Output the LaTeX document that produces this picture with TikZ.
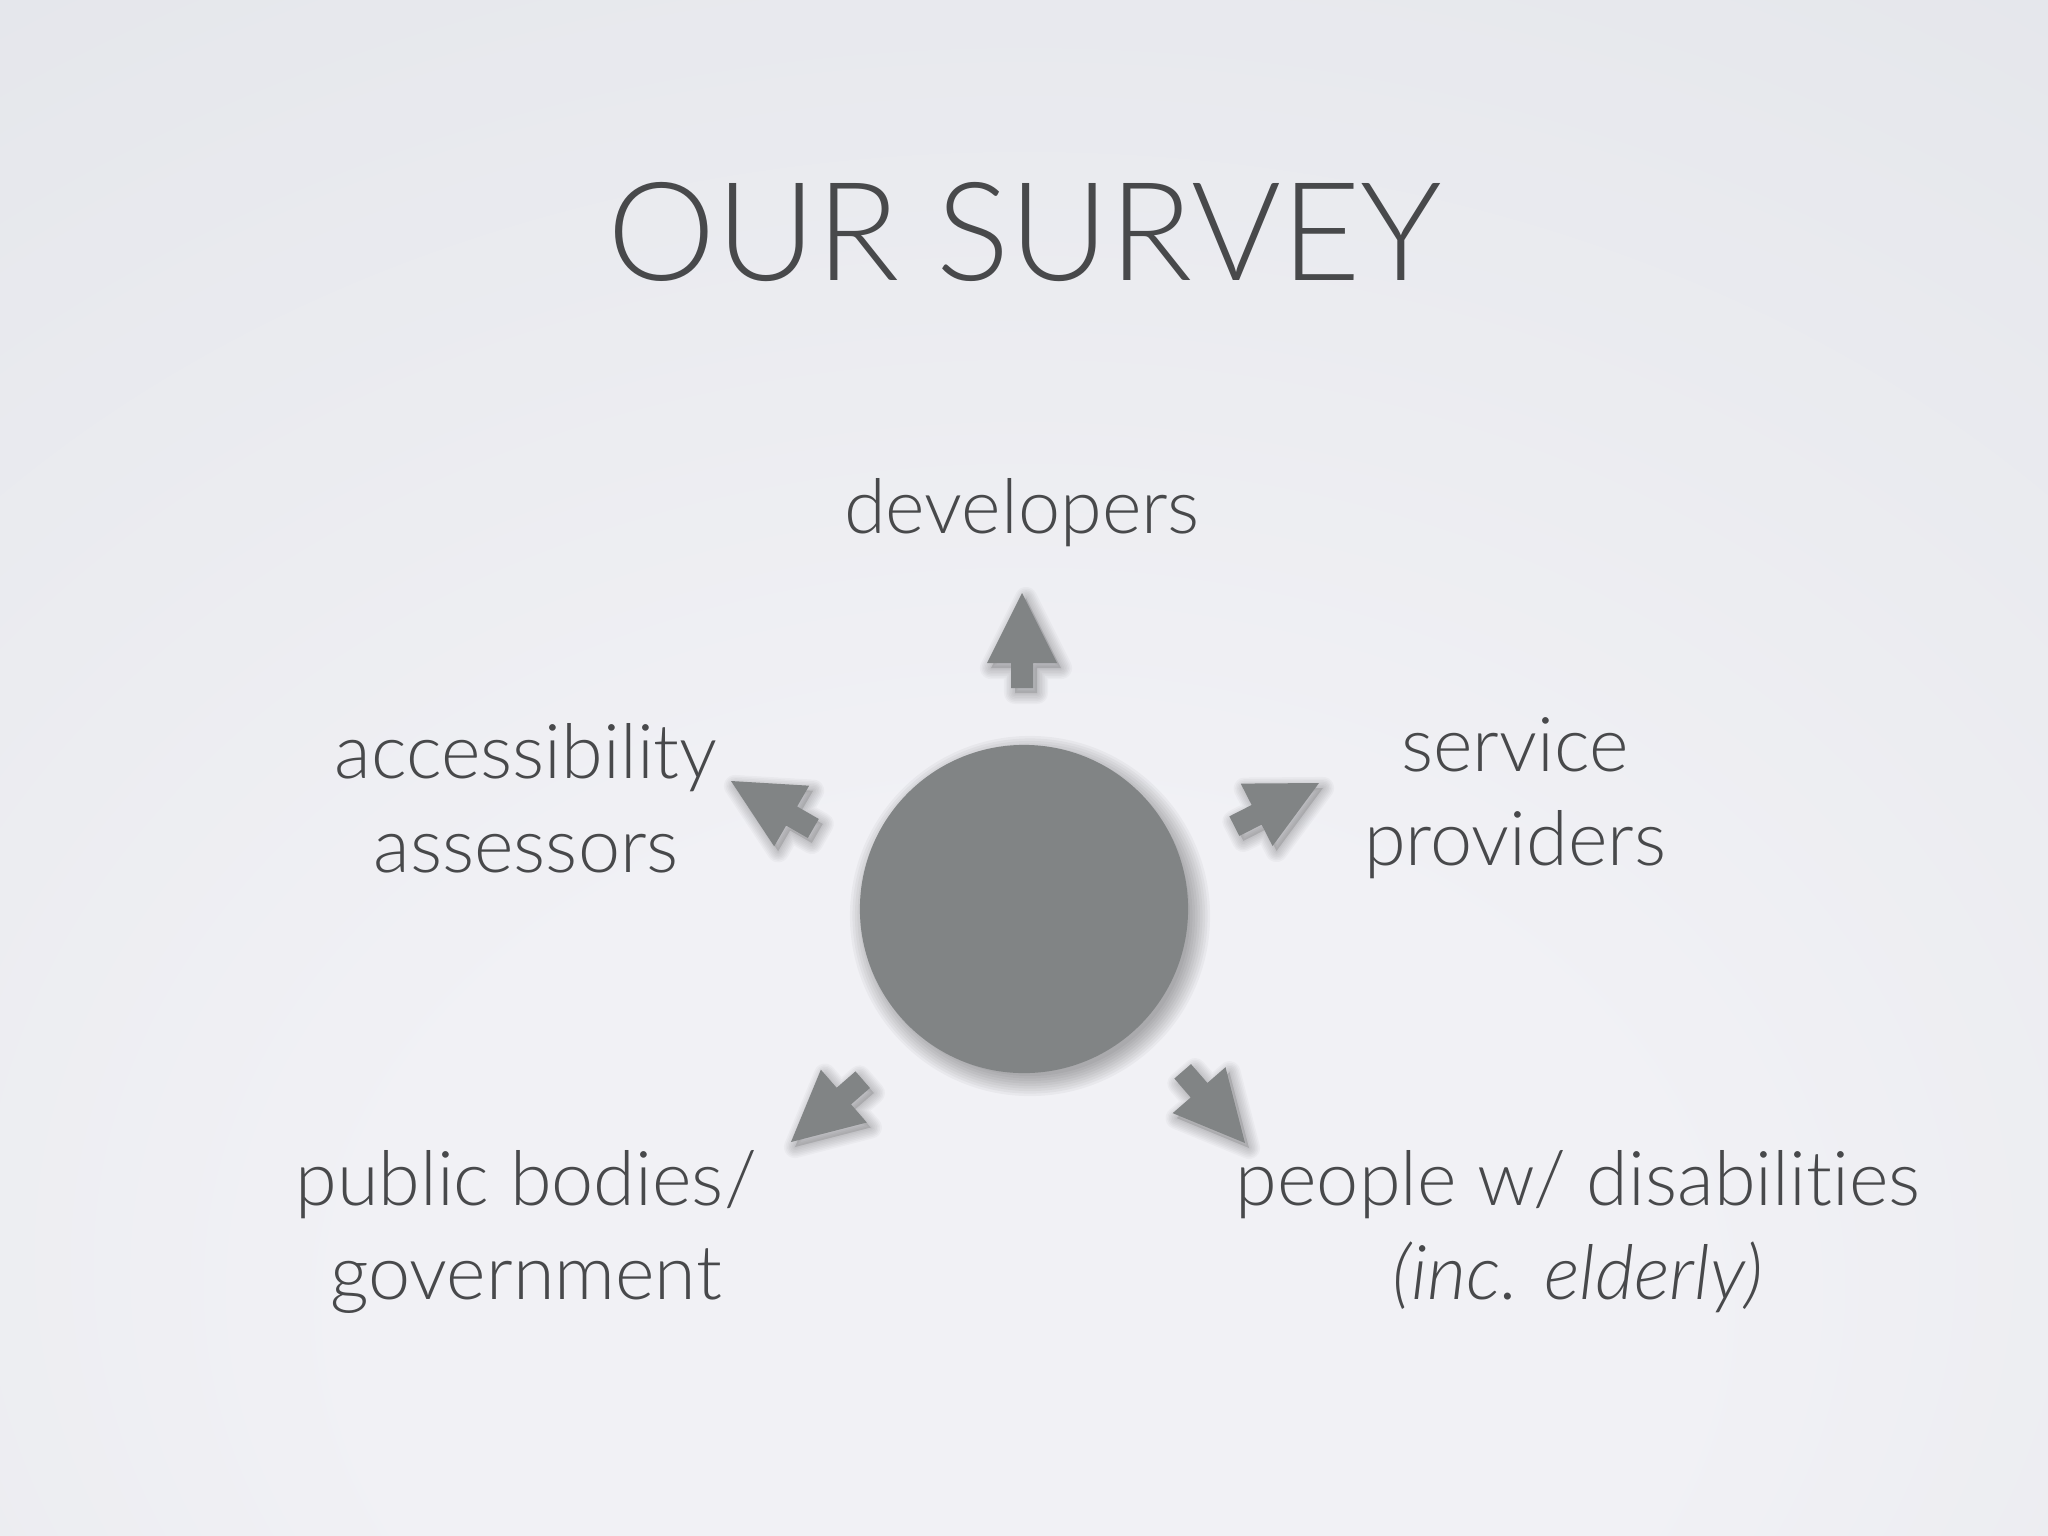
\documentclass[tikz,border=0pt]{standalone}
\usepackage{fontspec}
\setmainfont{Lato}[UprightFont=* Light, ItalicFont=* Light Italic, Ligatures=NoCommon]
\usepackage{tikz}

\definecolor{bgin}{HTML}{F1F1F5}
\definecolor{bgout}{HTML}{D3D7DD}
\definecolor{disc}{HTML}{818485}
\definecolor{ink}{HTML}{48494B}
\pgfdeclareradialshading{slidebg}{\pgfpoint{0bp}{-22bp}}{color(0bp)=(bgin); color(16bp)=(bgin); color(86bp)=(bgout)}

\begin{document}
\begin{tikzpicture}[
  x=0.01cm, y=-0.01cm,
  ttl/.style={font=\fontsize{39}{46}\selectfont, text=ink},
  lbl/.style={font=\fontsize{21.5}{26.7}\selectfont, text=ink, align=center},
  hub/.style={circle, fill=disc, minimum size=3.28cm, inner sep=0pt},
  pics/pointer/.style={code={
    % soft shadow, offset down-right on the page
    \begin{scope}[shift={(0.04cm,-0.05cm)}, rotate=#1]
      \fill[black, opacity=0.12]
        (0,0) -- (-70,35) -- (-70,11) -- (-95,11) -- (-95,-11) -- (-70,-11) -- (-70,-35) -- cycle;
      \foreach \w in {1,...,7}
        \draw[black, opacity=0.028, line width=\w*0.9pt, line join=round]
          (0,0) -- (-70,35) -- (-70,11) -- (-95,11) -- (-95,-11) -- (-70,-11) -- (-70,-35) -- cycle;
    \end{scope}
    \begin{scope}[rotate=#1]
      \fill[disc] (0,0) -- (-70,35) -- (-70,11) -- (-95,11) -- (-95,-11) -- (-70,-11) -- (-70,-35) -- cycle;
    \end{scope}
  }}
]
\useasboundingbox (0,0) rectangle (2048,1536);
\shade[shading=slidebg] (0,0) rectangle (2048,1536);

\node[ttl] (title) at (1025,232) {OUR SURVEY};

% centre disc with soft shadow
\coordinate (hubc) at (1024,909);
\foreach \r in {0,...,8}
  \fill[black, opacity=0.035] ([shift={(0.06cm,-0.07cm)}]hubc) circle ({1.60cm+\r*0.025cm});
\node[hub] (hub) at (hubc) {};

\node[lbl] (dev) at (1022,513) {developers};
\node[lbl] (access) at (526,798) {accessibility\\assessors};
\node[lbl] (service) at (1515,798) {service\\providers};
\node[lbl] (public) at (526,1232) {public bodies/\\government};
\node[lbl] (people) at (1578,1232) {people w/ disabilities\\\textit{(inc. elderly)}};

\pic (toDev) at (1022,593) {pointer=90};
\pic (toAccess) at (731,781) {pointer=150};
\pic (toService) at (1319,783) {pointer=27};
\pic (toPublic) at (791,1142) {pointer=221};
\pic (toPeople) at (1245,1143) {pointer=-49};
\end{tikzpicture}
\end{document}
